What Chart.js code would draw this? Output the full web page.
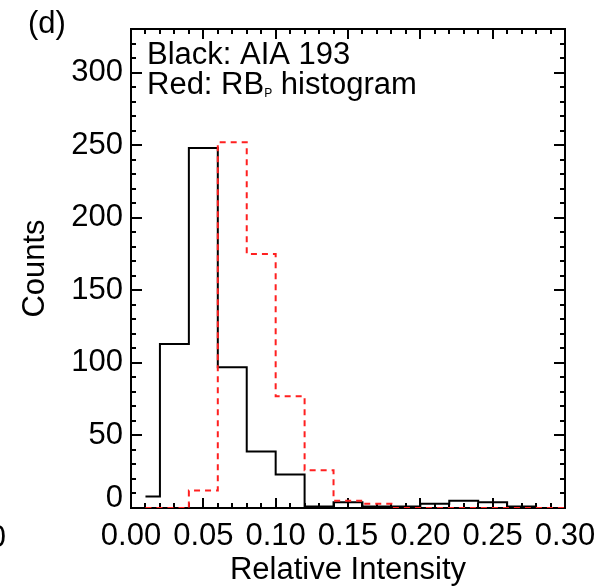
<!DOCTYPE html>
<html>
<head>
<meta charset="utf-8">
<script src="https://cdn.jsdelivr.net/npm/chart.js@4"></script>
<style>
  html, body { margin: 0; padding: 0; background: #fff; }
  canvas { display: block; }
</style>
</head>
<body>
<canvas id="hist-canvas" width="616" height="587"></canvas>
<script>
// bin centres (relative intensity), bins are 0.02 wide
const binCenters = [0.01, 0.03, 0.05, 0.07, 0.09, 0.11, 0.13, 0.15, 0.17, 0.19, 0.21, 0.23, 0.25, 0.27, 0.29, 0.31];
const aia193Counts = [8, 113, 248, 97, 39, 23, 1, 4, 1, 1, 3, 5, 4, 1, 0, 0];
const rbpCounts = [0, 0, 12, 252, 175, 77, 26, 5, 3, 0, 0, 0, 0, 0, 0, 0];
const xTicks = [0, 0.05, 0.10, 0.15, 0.20, 0.25, 0.30];
const yTicks = [0, 50, 100, 150, 200, 250, 300];

const FONT = '"Liberation Sans", Arial, Helvetica, sans-serif';
const SIZE = 31;
const font = { family: FONT, size: SIZE };
const titleFont = { family: FONT, size: SIZE, lineHeight: 1 };

function toPoints(values) {
  return binCenters.map((x, i) => ({ x: x, y: values[i] }));
}

// IDL style box: frame + inward ticks on all four sides (under the lines)
const boxPlugin = {
  id: 'idlBox',
  beforeDatasetsDraw(chart) {
    const ctx = chart.ctx;
    const a = chart.chartArea;
    const xs = chart.scales.x;
    const ys = chart.scales.y;
    ctx.save();
    ctx.strokeStyle = '#000';
    ctx.lineWidth = 2;
    ctx.strokeRect(a.left, a.top, a.right - a.left, a.bottom - a.top);

    ctx.beginPath();
    for (let i = 0; i <= 30; i++) {
      const v = i / 100;
      const len = (i % 5 === 0) ? 10 : 5;
      const px = Math.round(xs.getPixelForValue(v));
      ctx.moveTo(px, a.bottom); ctx.lineTo(px, a.bottom - len);
      ctx.moveTo(px, a.top); ctx.lineTo(px, a.top + len);
    }
    for (let v = 0; v <= 330; v += 10) {
      const len = (v % 50 === 0) ? 11 : 5;
      const py = Math.round(ys.getPixelForValue(v));
      ctx.moveTo(a.left, py); ctx.lineTo(a.left + len, py);
      ctx.moveTo(a.right, py); ctx.lineTo(a.right - len, py);
    }
    ctx.stroke();
    ctx.restore();
  },
  afterDraw(chart) {
    const ctx = chart.ctx;
    const a = chart.chartArea;
    const ys = chart.scales.y;
    ctx.save();
    ctx.fillStyle = '#000';
    ctx.textBaseline = 'alphabetic';
    ctx.textAlign = 'left';
    ctx.font = SIZE + 'px ' + FONT;
    const tx = a.left + 16;
    ctx.fillText('Black: AIA 193', tx, 64);
    let s = 'Red: RB';
    ctx.fillText(s, tx, 94);
    let w = ctx.measureText(s).width;
    ctx.font = '12px ' + FONT;
    ctx.fillText('P', tx + w, 97);
    w += ctx.measureText('P').width;
    ctx.font = SIZE + 'px ' + FONT;
    ctx.fillText(' histogram', tx + w, 94);

    // panel label
    ctx.fillText('(d)', 28, 33);

    // the "0" of the y axis sits a little above its tick
    ctx.textAlign = 'right';
    ctx.textBaseline = 'middle';
    ctx.fillText(String(yTicks[0]), a.left - 8, ys.getPixelForValue(0) - 10);

    // clipped label of the neighbouring panel
    ctx.fillText('0', 6, 538);
    ctx.restore();
  }
};

const histChart = new Chart('hist-canvas', {
  type: 'line',
  data: {
    datasets: [{
      label: 'RBp histogram',
      data: toPoints(rbpCounts),
      borderColor: '#ff2020',
      borderWidth: 2,
      borderDash: [6, 5],
      stepped: 'middle',
      pointRadius: 0,
      fill: false,
      order: 0,
    }, {
      label: 'AIA 193',
      data: toPoints(aia193Counts),
      borderColor: '#000',
      borderWidth: 2,
      stepped: 'middle',
      pointRadius: 0,
      fill: false,
      order: 1,
    }],
  },
  options: {
    responsive: false,
    animation: false,
    devicePixelRatio: 1,
    layout: { padding: { left: 0, right: 51, top: 29, bottom: 0 } },
    plugins: {
      legend: { display: false },
      tooltip: { enabled: false },
    },
    scales: {
      x: {
        type: 'linear',
        min: 0,
        max: 0.3,
        grid: { display: false, drawTicks: false },
        border: { display: false },
        afterBuildTicks: (scale) => { scale.ticks = xTicks.map(v => ({ value: v })); },
        afterFit: (scale) => { scale.height = 79; },
        ticks: {
          font: font,
          color: '#000',
          padding: 10,
          maxRotation: 0,
          autoSkip: false,
          callback: (v) => Number(v).toFixed(2),
        },
        title: {
          display: true,
          text: 'Relative Intensity',
          font: titleFont,
          color: '#000',
          padding: { top: 0, bottom: 1 },
        },
      },
      y: {
        type: 'linear',
        min: 0,
        max: 330,
        grid: { display: false, drawTicks: false },
        border: { display: false },
        afterBuildTicks: (scale) => { scale.ticks = yTicks.map(v => ({ value: v })); },
        afterFit: (scale) => { scale.width = 131; },
        ticks: {
          font: font,
          color: '#000',
          padding: 8,
          autoSkip: false,
          // zero is drawn by the plugin, slightly raised as in the original
          callback: (v) => (v === 0 ? '' : String(v)),
        },
        title: {
          display: true,
          text: 'Counts',
          font: titleFont,
          color: '#000',
          padding: { top: 20, bottom: 0 },
        },
      },
    },
  },
  plugins: [boxPlugin],
});
</script>
</body>
</html>
